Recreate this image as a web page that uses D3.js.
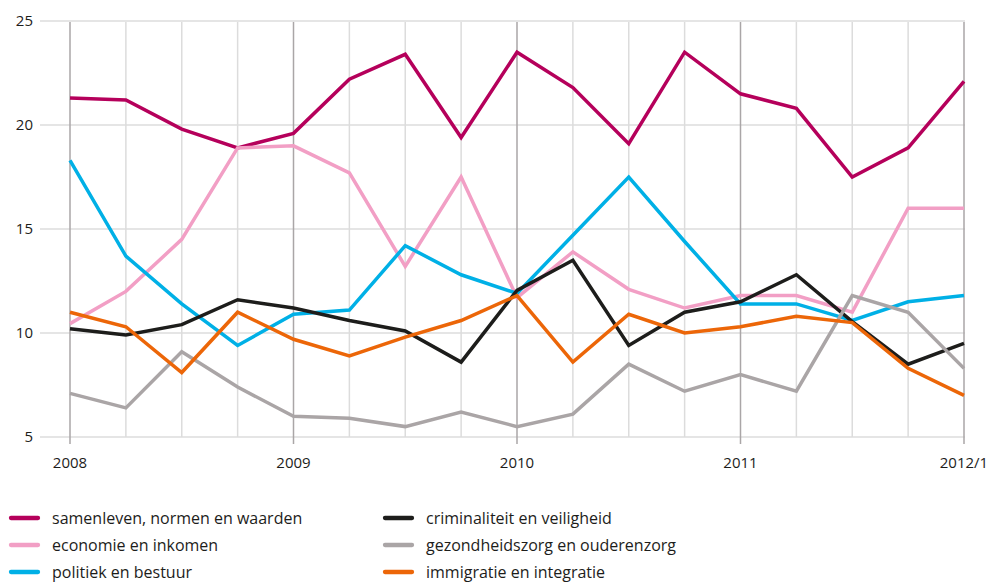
<!DOCTYPE html>
<html>
<head>
  <meta charset="utf-8">
  <title>Onderwerpen</title>
  <style>
    body { margin: 0; background: #fff; }
  </style>
</head>
<body>
  <div id="chart"></div>
  <script src="https://d3js.org/d3.v7.min.js"></script>
  <script>
    // quarters 2008 Q1 .. 2012 Q1
    var quarters = d3.range(17);
    var yearTicks = [0, 4, 8, 12, 16];
    var yearLabels = ["2008", "2009", "2010", "2011", "2012/1"];
    var yTicks = [5, 10, 15, 20, 25];

    var names = [
      "samenleven, normen en waarden",
      "economie en inkomen",
      "politiek en bestuur",
      "criminaliteit en veiligheid",
      "gezondheidszorg en ouderenzorg",
      "immigratie en integratie"
    ];
    var colors = ["#b5005b", "#f29fc5", "#00b0e6", "#1d1d1b", "#aaa5a6", "#ec6608"];

    var samenleven = [21.3, 21.2, 19.8, 18.9, 19.6, 22.2, 23.4, 19.4, 23.5, 21.8, 19.1, 23.5, 21.5, 20.8, 17.5, 18.9, 22.1];
    var economie = [10.45, 12.0, 14.5, 18.9, 19.0, 17.7, 13.2, 17.5, 11.7, 13.9, 12.1, 11.2, 11.8, 11.8, 11.0, 16.0, 16.0];
    var politiek = [18.3, 13.7, 11.4, 9.4, 10.9, 11.1, 14.2, 12.8, 11.9, 14.7, 17.5, 14.4, 11.4, 11.4, 10.6, 11.5, 11.8];
    var criminaliteit = [10.2, 9.9, 10.4, 11.6, 11.2, 10.6, 10.1, 8.6, 12.05, 13.5, 9.4, 11.0, 11.5, 12.8, 10.55, 8.5, 9.5];
    var gezondheid = [7.1, 6.4, 9.1, 7.4, 6.0, 5.9, 5.5, 6.2, 5.5, 6.1, 8.5, 7.2, 8.0, 7.2, 11.8, 11.0, 8.3];
    var immigratie = [11.0, 10.3, 8.1, 11.0, 9.7, 8.9, 9.8, 10.6, 11.8, 8.6, 10.9, 10.0, 10.3, 10.8, 10.5, 8.3, 7.0];

    var series = [samenleven, economie, politiek, criminaliteit, gezondheid, immigratie];

    var W = 993, H = 582;
    var margin = {top: 21, right: 29, bottom: 145, left: 70},
        width = W - margin.left - margin.right,
        height = H - margin.top - margin.bottom;

    var svg = d3.select("#chart").append("svg")
        .attr("width", W)
        .attr("height", H)
        .attr("font-family", "'Open Sans', sans-serif");

    var g = svg.append("g")
        .attr("transform", "translate(" + margin.left + "," + margin.top + ")");

    var x = d3.scaleLinear().domain([0, 16]).range([0, width]);
    var y = d3.scaleLinear().domain([5, 25]).range([height, 0]);

    // horizontal grid
    g.selectAll(".hgrid")
        .data(yTicks)
        .enter().append("line")
        .attr("x1", -30).attr("x2", width + 1)
        .attr("y1", function(d){ return y(d); })
        .attr("y2", function(d){ return y(d); })
        .attr("stroke", "#dcdcdc")
        .attr("stroke-width", 1.5);

    // vertical grid, darker at year boundaries
    g.selectAll(".vgrid")
        .data(quarters)
        .enter().append("line")
        .attr("x1", function(d){ return x(d); })
        .attr("x2", function(d){ return x(d); })
        .attr("y1", 1)
        .attr("y2", function(d){ return d % 4 === 0 ? height + 7 : height; })
        .attr("stroke", function(d){ return d % 4 === 0 ? "#aaa6a7" : "#dcdcdc"; })
        .attr("stroke-width", 1.5);

    // y labels
    g.selectAll(".ylab")
        .data(yTicks)
        .enter().append("text")
        .attr("x", -37)
        .attr("y", function(d){ return y(d); })
        .attr("dy", "0.35em")
        .attr("text-anchor", "end")
        .attr("font-size", 15)
        .attr("fill", "#1d1d1b")
        .text(function(d){ return d; });

    // x labels
    g.selectAll(".xlab")
        .data(yearTicks)
        .enter().append("text")
        .attr("x", function(d){ return x(d); })
        .attr("y", height + 31)
        .attr("text-anchor", "middle")
        .attr("font-size", 15)
        .attr("fill", "#1d1d1b")
        .text(function(d, i){ return yearLabels[i]; });

    var line = d3.line()
        .x(function(d, i){ return x(i); })
        .y(function(d){ return y(d); });

    g.selectAll(".series")
        .data(series)
        .enter().append("path")
        .attr("d", line)
        .attr("fill", "none")
        .attr("stroke", function(d, i){ return colors[i]; })
        .attr("stroke-width", 3.5)
        .attr("stroke-linejoin", "miter");

    // legend
    var legend = svg.append("g");
    var item = legend.selectAll(".item")
        .data(names)
        .enter().append("g")
        .attr("transform", function(d, i){
          var col = Math.floor(i / 3), row = i % 3;
          return "translate(" + (9 + col * 374) + "," + (518 + row * 27) + ")";
        });
    item.append("line")
        .attr("x1", 2).attr("x2", 29)
        .attr("stroke", function(d, i){ return colors[i]; })
        .attr("stroke-width", 4.3)
        .attr("stroke-linecap", "round");
    item.append("text")
        .attr("x", 43)
        .attr("dy", "0.35em")
        .attr("font-size", 16)
        .attr("fill", "#1d1d1b")
        .text(function(d){ return d; });
  </script>
</body>
</html>
